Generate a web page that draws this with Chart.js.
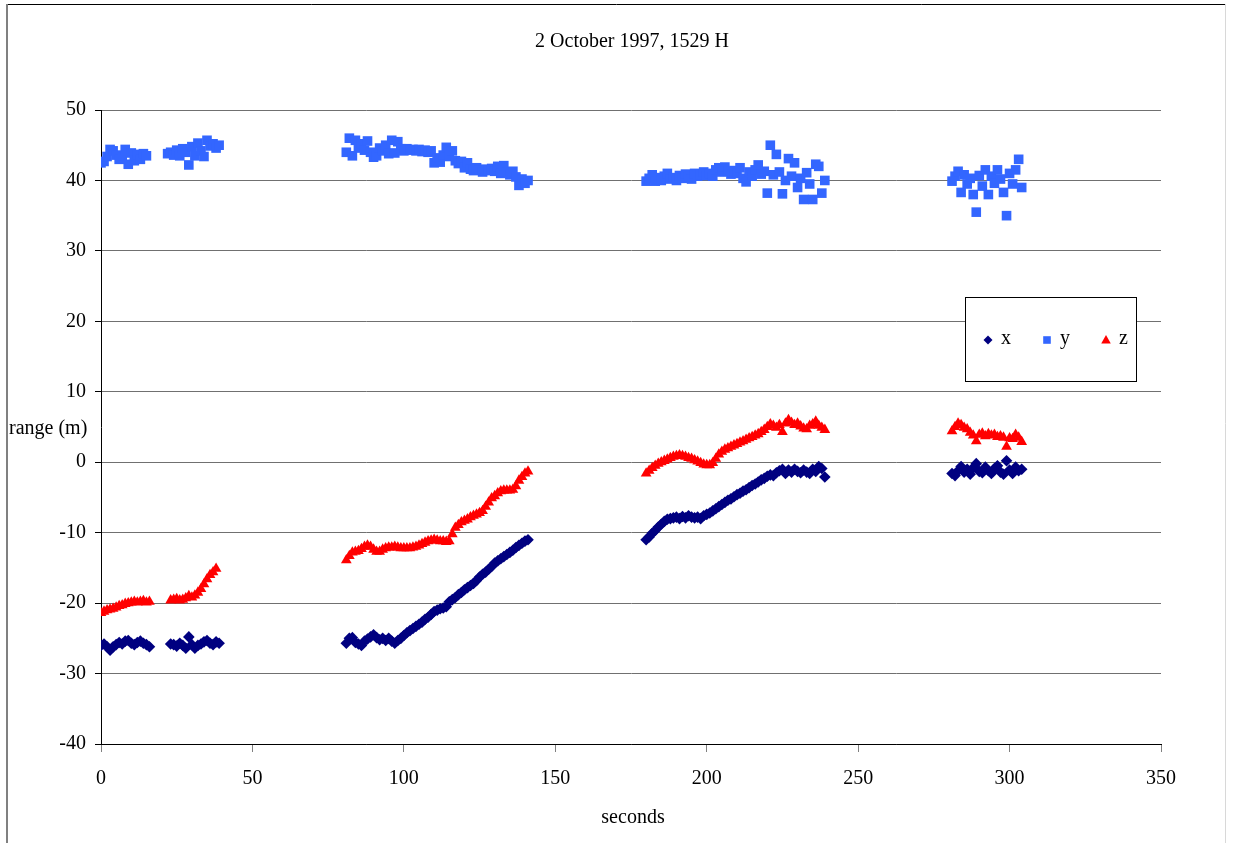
<!DOCTYPE html>
<html>
<head>
<meta charset="utf-8">
<script src="https://cdn.jsdelivr.net/npm/chart.js@4/dist/chart.umd.min.js"></script>
<style>html,body{margin:0;padding:0;background:#fff}canvas{display:block}</style>
</head>
<body>
<canvas id="c" width="1236" height="843"></canvas>
<script>
const chartTitle = '2 October 1997, 1529 H';
const xAxisTitle = 'seconds';
const yAxisTitle = 'range (m)';
const seriesNames = ['x', 'y', 'z'];
const seriesColors = ['#000080', '#3366FF', '#FF0000'];
const xTickValues = [0, 50, 100, 150, 200, 250, 300, 350];
const yTickValues = [-40, -30, -20, -10, 0, 10, 20, 30, 40, 50];

const seconds = [
  0,1,2,3,4,5,6,7,8,9,10,11,12,13,14,15,16,
  22,23,24,25,26,27,28,29,30,31,32,33,34,35,36,37,38,39,
  81,82,83,84,85,86,87,88,89,90,91,92,93,94,95,96,97,98,99,100,
  101,102,103,104,105,106,107,108,109,110,111,112,113,114,115,116,117,118,119,120,
  121,122,123,124,125,126,127,128,129,130,131,132,133,134,135,136,137,138,139,140,141,
  180,181,182,183,184,185,186,187,188,189,190,191,192,193,194,195,196,197,198,199,
  200,201,202,203,204,205,206,207,208,209,210,211,212,213,214,215,216,217,218,219,
  220,221,222,223,224,225,226,227,228,229,230,231,232,233,234,235,236,237,238,239,
  281,282,283,284,285,286,287,288,289,290,291,292,293,294,295,296,297,298,299,300,301,302,303,304
];

const xRange = [
  -26.0,-25.8,-26.2,-26.7,-26.2,-25.9,-25.6,-25.8,-25.4,-25.3,-25.7,-25.9,-25.6,-25.4,-25.7,-25.9,-26.2,
  null,-25.8,-25.9,-26.1,-25.7,-26.0,-26.4,-24.8,-25.9,-26.4,-26.0,-25.8,-25.5,-25.3,-25.7,-25.9,-25.5,-25.7,
  -25.7,-25.0,-24.9,-25.6,-25.8,-26.0,-25.4,-25.1,-24.8,-24.5,-24.9,-25.2,-25.0,-25.3,-25.0,-25.4,-25.7,-25.3,-25.0,-24.6,
  -24.2,-23.9,-23.6,-23.3,-23.0,-22.7,-22.3,-22.0,-21.6,-21.2,-21.0,-20.8,-20.7,-20.5,-19.8,-19.5,-19.2,-18.8,-18.5,-18.1,
  -17.8,-17.5,-17.2,-16.8,-16.3,-15.9,-15.6,-15.2,-14.8,-14.3,-14.0,-13.7,-13.4,-13.1,-12.8,-12.5,-12.1,-11.8,-11.5,-11.2,-11.0,
  -11.0,-10.6,-10.1,-9.7,-9.2,-8.8,-8.4,-8.1,-8.0,-7.9,-7.8,-8.0,-7.7,-7.9,-7.6,-7.8,-7.9,-7.8,-8.0,-7.6,
  -7.4,-7.2,-6.9,-6.6,-6.3,-6.0,-5.7,-5.4,-5.2,-4.9,-4.6,-4.4,-4.1,-3.9,-3.6,-3.3,-3.1,-2.8,-2.5,-2.3,
  -2.0,-1.8,-1.9,-1.5,-1.2,-1.0,-1.6,-1.1,-1.4,-1.0,-1.3,-1.5,-1.1,-1.4,-1.6,-1.0,-1.3,-0.6,-0.9,-2.1,
  -1.6,-1.9,-1.2,-0.6,-1.4,-1.0,-1.7,-0.8,-0.2,-1.3,-1.5,-0.7,-1.2,-1.6,-0.9,-0.5,-1.4,-1.7,0.2,-1.1,-1.6,-0.7,-1.2,-1.0
];

const yRange = [
  42.5,42.7,43.4,44.4,44.2,43.6,43.0,43.5,44.4,42.3,43.9,42.8,43.7,43.0,43.8,43.5,null,
  43.8,44.0,43.6,44.3,43.5,44.5,44.0,42.2,44.8,43.5,45.3,44.2,43.4,45.7,44.9,45.2,44.6,45.0,
  44.0,46.0,43.5,45.7,44.6,45.2,44.3,45.6,44.0,43.3,43.5,44.6,44.2,45.0,43.8,45.7,43.9,45.5,44.5,44.2,
  44.5,44.3,44.4,44.2,44.4,44.1,44.3,44.0,44.2,42.5,43.2,42.6,43.6,44.7,43.4,44.2,42.8,42.4,42.7,41.8,
  42.5,41.6,41.4,41.8,41.5,41.2,41.6,41.4,41.7,41.3,42.0,41.0,42.1,41.2,40.8,41.3,40.5,39.3,40.2,39.6,40.0,
  39.9,40.3,40.8,39.9,40.4,40.0,40.6,41.0,40.2,40.4,40.0,40.7,40.3,40.9,40.5,40.2,41.0,40.6,40.8,41.2,
  40.7,41.0,40.6,41.5,41.8,41.2,41.9,41.3,40.9,41.4,41.0,41.8,40.3,39.8,41.2,40.6,41.5,42.2,40.9,41.3,
  38.2,45.0,40.8,43.7,41.2,38.1,40.0,43.1,40.6,42.5,39.0,40.3,37.3,41.1,39.5,37.3,42.3,42.0,38.2,40.0,
  39.9,40.6,41.3,38.3,40.8,39.5,40.3,38.0,35.5,40.7,39.2,41.5,38.0,40.6,39.6,41.5,40.2,38.3,35.0,41.0,39.5,41.5,43.0,39.0
];

const zRange = [
  -21.4,-21.2,-21.0,-20.9,-20.8,-20.6,-20.4,-20.3,-20.1,-20.0,-19.9,-19.8,-19.9,-19.8,-19.7,-19.9,-19.8,
  null,-19.6,-19.5,-19.4,-19.6,-19.5,-19.3,-19.0,-19.2,-18.9,-18.5,-18.0,-17.3,-16.6,-16.0,-15.6,-15.1,null,
  -13.9,-13.3,-12.8,-12.7,-12.6,-12.3,-12.0,-11.8,-12.0,-12.4,-12.7,-12.7,-12.4,-12.2,-12.1,-12.1,-12.0,-12.1,-12.2,-12.2,
  -12.2,-12.2,-12.1,-12.0,-11.8,-11.6,-11.4,-11.2,-11.1,-11.0,-11.1,-11.2,-11.2,-11.3,-11.2,-10.2,-9.3,-8.9,-8.5,-8.3,
  -8.1,-7.8,-7.6,-7.4,-7.2,-6.9,-6.3,-5.7,-5.1,-4.8,-4.4,-4.1,-4.0,-4.0,-4.0,-3.9,-3.4,-2.6,-2.1,-1.6,-1.3,
  -1.6,-1.2,-0.8,-0.5,-0.2,0.0,0.2,0.4,0.6,0.8,0.9,1.0,0.9,0.8,0.6,0.5,0.3,0.1,-0.1,-0.3,
  -0.4,-0.4,-0.1,0.5,1.1,1.5,1.8,2.0,2.2,2.4,2.6,2.8,3.0,3.2,3.4,3.6,3.8,4.0,4.3,4.6,
  5.0,5.4,5.2,4.9,5.3,4.3,5.5,6.0,5.6,5.3,5.5,5.1,4.8,4.7,5.2,5.4,5.8,5.2,4.9,4.6,
  4.4,5.0,5.5,5.3,4.9,4.7,4.2,3.8,3.0,3.9,4.1,3.7,4.0,3.8,3.9,3.6,3.7,3.5,2.2,3.4,3.3,3.9,3.5,2.9
];

const FONT = '"Liberation Serif", "Times New Roman", serif';

function toPoints(values) {
  const pts = [];
  seconds.forEach((t, i) => { if (values[i] !== null && values[i] !== undefined) pts.push({ x: t, y: values[i] }); });
  return pts;
}

const pointStyles = ['rectRot', 'rect', 'triangle'];
const pointRadii = [5.8, 6.8, 6.2];
const seriesValues = [xRange, yRange, zRange];

const datasets = seriesNames.map((name, i) => ({
  label: name,
  data: toPoints(seriesValues[i]),
  showLine: false,
  pointStyle: pointStyles[i],
  pointRadius: pointRadii[i],
  pointHoverRadius: pointRadii[i],
  backgroundColor: seriesColors[i],
  borderColor: seriesColors[i],
  borderWidth: 0,
  order: 2 - i
}));

function drawMarker(ctx, style, x, y, size, color) {
  ctx.save();
  ctx.fillStyle = color;
  ctx.beginPath();
  if (style === 'rectRot') {
    ctx.moveTo(x - size, y); ctx.lineTo(x, y - size); ctx.lineTo(x + size, y); ctx.lineTo(x, y + size);
  } else if (style === 'rect') {
    ctx.rect(x - size, y - size, size * 2, size * 2);
  } else {
    ctx.moveTo(x, y - size); ctx.lineTo(x + size * 0.95, y + size * 0.7); ctx.lineTo(x - size * 0.95, y + size * 0.7);
  }
  ctx.closePath();
  ctx.fill();
  ctx.restore();
}

const decorPlugin = {
  id: 'decor',
  afterDraw(chart) {
    const ctx = chart.ctx;
    const area = chart.chartArea;
    ctx.save();
    // outer frame
    ctx.strokeStyle = '#000';
    ctx.lineWidth = 1;
    ctx.beginPath(); ctx.moveTo(7, 4.5); ctx.lineTo(1226, 4.5); ctx.stroke();
    ctx.strokeStyle = '#808080';
    ctx.lineWidth = 2;
    ctx.beginPath(); ctx.moveTo(7, 4); ctx.lineTo(7, 843); ctx.stroke();
    ctx.strokeStyle = '#d8d8d8';
    ctx.lineWidth = 1;
    ctx.beginPath(); ctx.moveTo(1225.5, 4); ctx.lineTo(1225.5, 843); ctx.stroke();

    // texts
    ctx.fillStyle = '#000';
    ctx.font = '20px ' + FONT;
    ctx.textBaseline = 'middle';
    ctx.textAlign = 'center';
    ctx.fillText(chartTitle, (area.left + area.right) / 2 + 1, 42);
    ctx.fillText(xAxisTitle, (area.left + area.right) / 2 + 2, 818);
    ctx.textAlign = 'left';
    ctx.fillText(yAxisTitle, 9, 429);

    // legend
    const bx = 965.5, by = 297.5, bw = 171, bh = 84;
    ctx.fillStyle = '#fff';
    ctx.fillRect(bx, by, bw, bh);
    ctx.strokeStyle = '#000';
    ctx.lineWidth = 1;
    ctx.strokeRect(bx, by, bw, bh);
    const ly = 340;
    const markerX = [988, 1047, 1106];
    const markerSize = [4.5, 3.8, 5];
    seriesNames.forEach((name, i) => {
      drawMarker(ctx, pointStyles[i], markerX[i], ly, markerSize[i], seriesColors[i]);
      ctx.fillStyle = '#000';
      ctx.textAlign = 'left';
      ctx.textBaseline = 'middle';
      ctx.font = '20px ' + FONT;
      ctx.fillText(name, markerX[i] + 13, ly - 1);
    });
    ctx.restore();
  }
};

new Chart(document.getElementById('c'), {
  type: 'scatter',
  data: { datasets },
  options: {
    responsive: false,
    animation: false,
    devicePixelRatio: 1,
    layout: { padding: { left: 0, top: 110, right: 75, bottom: 0 } },
    plugins: {
      legend: { display: false },
      title: { display: false },
      tooltip: { enabled: false }
    },
    scales: {
      x: {
        type: 'linear',
        min: 0,
        max: 350,
        afterBuildTicks: s => { s.ticks = xTickValues.map(v => ({ value: v })); },
        afterFit: s => { s.height = 99; },
        grid: { drawOnChartArea: false, drawTicks: true, tickLength: 8, tickColor: '#808080', tickWidth: 1 },
        border: { display: true, color: '#000', width: 1 },
        ticks: { color: '#000', font: { family: FONT, size: 20 }, padding: 15, maxRotation: 0, autoSkip: false }
      },
      y: {
        type: 'linear',
        min: -40,
        max: 50,
        afterBuildTicks: s => { s.ticks = yTickValues.map(v => ({ value: v })); },
        afterFit: s => { s.width = 101; },
        grid: { color: '#707070', lineWidth: 1, drawTicks: true, tickLength: 6, tickColor: '#000', tickWidth: 1 },
        border: { display: true, color: '#000', width: 1 },
        ticks: { color: '#000', font: { family: FONT, size: 20 }, padding: 9, autoSkip: false }
      }
    }
  },
  plugins: [decorPlugin]
});
</script>
</body>
</html>
